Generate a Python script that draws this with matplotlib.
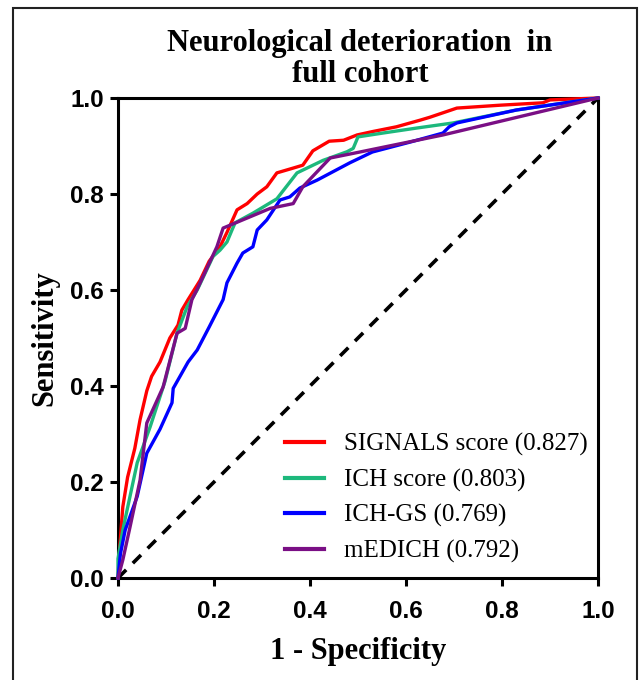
import matplotlib
matplotlib.use("Agg")
import matplotlib.pyplot as plt
from matplotlib.patches import Rectangle

# ROC curves (1 - specificity, sensitivity)
signals_x = [0, 0.004, 0.01, 0.02, 0.035, 0.046, 0.06, 0.07, 0.0875, 0.108, 0.125, 0.133,
             0.146, 0.171, 0.19, 0.2125, 0.227, 0.248, 0.269, 0.29, 0.31, 0.331, 0.365,
             0.385, 0.406, 0.44, 0.47, 0.498, 0.53, 0.58, 0.63, 0.65, 0.706, 0.796, 0.885,
             0.9, 1.0]
signals_y = [0, 0.07, 0.148, 0.21, 0.27, 0.33, 0.39, 0.42, 0.45, 0.50, 0.527, 0.558,
             0.58, 0.62, 0.66, 0.69, 0.72, 0.767, 0.78, 0.80, 0.815, 0.844, 0.854,
             0.86, 0.89, 0.91, 0.912, 0.923, 0.93, 0.94, 0.954, 0.96, 0.979, 0.985, 0.99,
             0.996, 1.0]

ich_x = [0, 0, 0.01, 0.025, 0.04, 0.067, 0.098, 0.123, 0.144, 0.165, 0.198, 0.2125, 0.227,
         0.2375, 0.244, 0.281, 0.331, 0.373, 0.427, 0.477, 0.49, 0.5, 0.552, 0.623, 0.698,
         0.83, 1.0]
ich_y = [0, 0.04, 0.1, 0.17, 0.24, 0.315, 0.41, 0.51, 0.565, 0.60, 0.67, 0.683, 0.70,
         0.725, 0.74, 0.76, 0.79, 0.844, 0.87, 0.888, 0.895, 0.919, 0.927, 0.9375, 0.948,
         0.975, 1.0]

ichgs_x = [0, 0.005, 0.015, 0.04, 0.06, 0.0875, 0.1125, 0.115, 0.146, 0.165, 0.19, 0.219,
           0.227, 0.248, 0.26, 0.281, 0.29, 0.31, 0.3375, 0.358, 0.379, 0.415, 0.483, 0.53,
           0.608, 0.677, 0.69, 0.706, 0.83, 1.0]
ichgs_y = [0, 0.05, 0.1, 0.17, 0.26, 0.31, 0.365, 0.395, 0.45, 0.475, 0.523, 0.58,
           0.615, 0.656, 0.677, 0.69, 0.725, 0.746, 0.7875, 0.794, 0.8125, 0.829, 0.865,
           0.8875, 0.908, 0.927, 0.94, 0.948, 0.975, 1.0]

medich_x = [0, 0.01, 0.025, 0.046, 0.06, 0.094, 0.123, 0.14, 0.154, 0.167, 0.206, 0.219,
            0.317, 0.365, 0.385, 0.442, 0.504, 0.677, 1.0]
medich_y = [0, 0.0375, 0.106, 0.204, 0.323, 0.398, 0.51, 0.52, 0.58, 0.606, 0.69, 0.729,
            0.77, 0.78, 0.815, 0.875, 0.8875, 0.923, 1.0]

labels = ["SIGNALS score (0.827)", "ICH score (0.803)", "ICH-GS (0.769)", "mEDICH (0.792)"]
colors = ["#ff0000", "#1db87c", "#0000ff", "#7a0f85"]
ticks = [0.0, 0.2, 0.4, 0.6, 0.8, 1.0]

SERIF = "Liberation Serif"
SANS = "Liberation Sans"

fig = plt.figure(figsize=(6.4, 6.8), dpi=100)
ax = fig.add_axes([118 / 640, 1 - 578 / 680, 480 / 640, 480 / 680])

ax.plot([0, 1], [0, 1], color="black", lw=2.6, ls=(0, (3.2, 2.6)), zorder=1)
curves = [(signals_x, signals_y), (ich_x, ich_y), (ichgs_x, ichgs_y), (medich_x, medich_y)]
for (xs, ys), lab, col in zip(curves, labels, colors):
    ax.plot(xs, ys, color=col, lw=2.4, label=lab, clip_on=False, zorder=3)

ax.set_xlim(0, 1)
ax.set_ylim(0, 1)
ax.set_xticks(ticks)
ax.set_yticks(ticks)
ax.set_xticklabels([f"{t:.1f}" for t in ticks], family=SANS, weight="bold", fontsize=17.5)
ax.set_yticklabels([f"{t:.1f}" for t in ticks], family=SANS, weight="bold", fontsize=17.5)
ax.tick_params(axis="both", width=2.2, length=6, direction="out")
ax.tick_params(axis="x", pad=10)
ax.tick_params(axis="y", pad=4)
for sp in ax.spines.values():
    sp.set_linewidth(2.2)

ax.set_xlabel("1 - Specificity", family=SERIF, weight="bold", fontsize=22, labelpad=10)
ax.set_ylabel("Sensitivity", family=SERIF, weight="bold", fontsize=22, labelpad=8)

fig.text(360 / 640, 1 - 59 / 680, "Neurological deterioration  in\nfull cohort",
         ha="center", va="center", family=SERIF, weight="bold", fontsize=22,
         linespacing=1.05)

leg = ax.legend(loc="upper left", bbox_to_anchor=(285 / 640, 1 - 433 / 680),
                bbox_transform=fig.transFigure, frameon=False, borderpad=0,
                borderaxespad=0, handlelength=1.55, handletextpad=0.8,
                labelspacing=0.5, prop={"family": SERIF, "size": 18})
for h in leg.get_lines():
    h.set_linewidth(3)

# outer frame around the whole figure
fig.patches.append(Rectangle((13 / 640, -0.05), 624 / 640, 1.05 - 8 / 680,
                             transform=fig.transFigure, fill=False,
                             edgecolor="#222222", lw=1.5))

fig.savefig("out.png", dpi=100)
